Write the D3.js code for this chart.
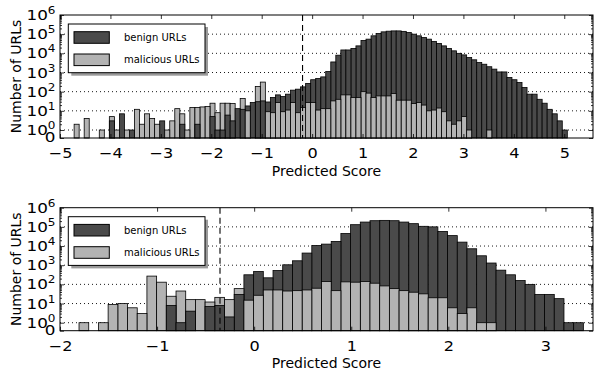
<!DOCTYPE html>
<html>
<head>
<meta charset="utf-8">
<script src="https://cdn.jsdelivr.net/npm/d3@7"></script>
<style>
  body { margin: 0; background: #fff; }
  svg text { font-family: "DejaVu Sans", sans-serif; fill: #000; }
</style>
</head>
<body>
<div id="chart"></div>
<script>
// counts per bin, bins of ~0.1 score
var topStart = -4.72, topWidth = 0.0998;
var topBenign = [
  0,0,0,0,0,0,0,3,0,7,
  0,1,0,0,0,0,0,3,0,0,
  0,2,0,0,2,0,0,5,1,1,
  6,3,13,12,18,27,30,33,29,50,
  68,56,74,120,135,178,270,420,490,590,
  1120,3550,8000,15000,15000,18000,24500,47000,55000,82000,
  108000,132000,143000,148000,148000,140000,122000,100000,82000,67000,
  55000,42000,33000,24500,18000,13500,10000,8300,6000,4600,
  3300,2700,2000,1500,1070,1070,550,420,300,165,
  74,74,40,25,12,7,3,1
];
var topMalicious = [
  2,0,4,0,0,1,0,5,1,0,
  1,0,12,2,7,4,2,0,1,3,
  13,7,1,15,15,16,17,25,8,25,
  25,24,0,44,10,0,186,316,9,8,
  27,9,11,27,8,15,27,27,11,13,
  13,33,40,68,68,50,50,100,84,50,
  60,60,60,80,36,36,36,24,27,20,
  10,11,14,9,3,2,3,5,1,0,
  0,0,1,0,0,0,0,0,0,0,
  0,0,0,0,0,0,0,0
];
var topThreshold = -0.19;
var topDomain = [-5, 5.57];
var topTicks = [-5,-4,-3,-2,-1,0,1,2,3,4,5];

var botStart = -1.804, botWidth = 0.0999;
var botBenign = [
  0,0,0,0,0,0,0,0,0,8,
  1,4,0,7,8,2,30,316,470,220,
  530,1050,1700,4300,10700,12600,17400,45000,130000,178000,
  210000,218000,210000,178000,147000,107000,100000,58000,35000,16000,
  7200,3100,1300,550,316,158,100,30,30,18,
  1,1
];
var botMalicious = [
  1,0,1,9,10,6,3,270,130,24,
  45,16,16,12,21,16,60,15,27,51,
  51,45,47,51,63,140,47,135,130,140,
  115,83,60,47,39,32,20,20,6,3,
  6,1,1,0,0,0,0,0,0,0,
  0,0
];
var botThreshold = -0.352;
var botDomain = [-2, 3.49];
var botTicks = [-2,-1,0,1,2,3];

var seriesNames = ["benign URLs", "malicious URLs"];
var colors = ["#4a4a4a", "#b3b3b3"];
var decades = [0,1,2,3,4,5,6];

var width = 595, height = 370;
var svg = d3.select("#chart").append("svg")
    .attr("width", width)
    .attr("height", height);

drawPanel({top: 15, domain: topDomain, ticks: topTicks, start: topStart, binW: topWidth,
  benign: topBenign, malicious: topMalicious, threshold: topThreshold});
drawPanel({top: 207.7, domain: botDomain, ticks: botTicks, start: botStart, binW: botWidth,
  benign: botBenign, malicious: botMalicious, threshold: botThreshold});

function drawPanel(c) {
  var left = 60, right = 593, plotH = 123,
      bottom = c.top + plotH;
  var linPart = 0.417;   // part of the axis taken by the linear 0..1 range, in decades

  var x = d3.scaleLinear().domain(c.domain).range([left, right]);
  function tr(v) { return v <= 1 ? v * linPart : linPart + Math.log10(v); }
  var yT = d3.scaleLinear().domain([0, linPart + 6]).range([bottom, c.top]);
  function y(v) { return yT(tr(v)); }

  var g = svg.append("g");

  // dotted grid
  g.selectAll("line.grid")
    .data(decades.slice(0, 6))
    .enter().append("line")
      .attr("class", "grid")
      .attr("x1", left).attr("x2", right)
      .attr("y1", function(d) { return y(Math.pow(10, d)); })
      .attr("y2", function(d) { return y(Math.pow(10, d)); })
      .attr("stroke", "#000").attr("stroke-width", 0.9)
      .attr("stroke-dasharray", "1,3");

  // bars, the shorter one of each bin drawn in front
  var bars = [];
  c.benign.forEach(function(v, i) { if (v > 0) bars.push({i: i, v: v, s: 0}); });
  c.malicious.forEach(function(v, i) { if (v > 0) bars.push({i: i, v: v, s: 1}); });
  bars.sort(function(a, b) { return b.v - a.v; });

  g.selectAll("rect.bar")
    .data(bars)
    .enter().append("rect")
      .attr("class", "bar")
      .attr("x", function(d) { return x(c.start + d.i * c.binW); })
      .attr("width", function(d) { return x(c.start + (d.i + 1) * c.binW) - x(c.start + d.i * c.binW); })
      .attr("y", function(d) { return y(d.v); })
      .attr("height", function(d) { return y(0) - y(d.v); })
      .attr("fill", function(d) { return colors[d.s]; })
      .attr("stroke", "#000")
      .attr("stroke-width", 0.8);

  // threshold
  g.append("line")
    .attr("x1", x(c.threshold)).attr("x2", x(c.threshold))
    .attr("y1", c.top).attr("y2", bottom)
    .attr("stroke", "#000").attr("stroke-width", 1.1)
    .attr("stroke-dasharray", "6,4");

  // ticks
  var xb = g.append("g")
      .attr("transform", "translate(0," + bottom + ")")
      .call(d3.axisBottom(x).tickValues(c.ticks).tickFormat(d3.format("d"))
        .tickSizeInner(-4).tickSizeOuter(0).tickPadding(10.5));
  g.append("g")
      .attr("transform", "translate(0," + c.top + ")")
      .call(d3.axisTop(x).tickValues(c.ticks).tickSizeInner(-4).tickSizeOuter(0).tickFormat(""));
  xb.selectAll("text")
    .style("font-size", "14px")
    .style("font-family", "DejaVu Sans")
    .attr("transform", "scale(1.15,1)");

  var major = decades.map(function(d) { return tr(Math.pow(10, d)); }).concat([0]);
  var minor = [];
  decades.slice(0, 6).forEach(function(d) {
    for (var k = 2; k < 10; k++) minor.push(tr(k * Math.pow(10, d)));
  });
  [[d3.axisLeft, left], [d3.axisRight, right]].forEach(function(a) {
    g.append("g").attr("transform", "translate(" + a[1] + ",0)")
      .call(a[0](yT).tickValues(major).tickSizeInner(-4).tickSizeOuter(0).tickFormat(""));
    g.append("g").attr("transform", "translate(" + a[1] + ",0)")
      .call(a[0](yT).tickValues(minor).tickSizeInner(-2).tickSizeOuter(0).tickFormat(""));
  });
  g.selectAll(".domain").remove();
  g.selectAll(".tick line").attr("stroke", "#000").attr("stroke-width", 0.8);

  // y tick labels 10^k and 0
  var yl = g.selectAll("text.ylab")
    .data(decades)
    .enter().append("text")
      .attr("class", "ylab")
      .attr("transform", function(d) {
        return "translate(" + (left - 4.5) + "," + (y(Math.pow(10, d)) + 5) + ") scale(1.2,1)";
      })
      .attr("text-anchor", "end")
      .style("font-size", "14px");
  yl.append("tspan").text("10");
  yl.append("tspan").attr("dy", "-6").style("font-size", "10px").text(function(d) { return d; });
  g.append("text")
    .attr("transform", "translate(" + (left - 4.5) + "," + (y(0) + 4) + ") scale(1.2,1)")
    .attr("text-anchor", "end")
    .style("font-size", "14px")
    .text("0");

  // frame
  g.append("rect")
    .attr("x", left).attr("y", c.top)
    .attr("width", right - left).attr("height", plotH)
    .attr("fill", "none").attr("stroke", "#000").attr("stroke-width", 1);

  // axis labels
  g.append("text")
    .attr("x", (left + right) / 2).attr("y", bottom + 37.5)
    .attr("text-anchor", "middle")
    .style("font-size", "14px")
    .text("Predicted Score");
  g.append("text")
    .attr("transform", "translate(20.5," + (c.top + plotH / 2) + ") rotate(-90)")
    .attr("text-anchor", "middle")
    .style("font-size", "14px")
    .text("Number of URLs");

  // legend
  var lg = g.append("g").attr("transform", "translate(68.3," + (c.top + 9) + ")");
  lg.append("rect").attr("x", 3).attr("y", 3).attr("width", 136.7).attr("height", 48.7).attr("fill", "#9a9a9a");
  lg.append("rect").attr("width", 136.7).attr("height", 48.7)
    .attr("fill", "#fff").attr("stroke", "#000").attr("stroke-width", 1);
  var item = lg.selectAll("g.item")
    .data(seriesNames)
    .enter().append("g")
      .attr("class", "item")
      .attr("transform", function(d, i) { return "translate(0," + (7.7 + i * 22.3) + ")"; });
  item.append("rect")
    .attr("x", 5.7).attr("width", 35.3).attr("height", 11.6)
    .attr("fill", function(d, i) { return colors[i]; })
    .attr("stroke", "#000").attr("stroke-width", 1);
  item.append("text")
    .attr("x", 55.7).attr("y", 5.8)
    .attr("dy", "0.35em")
    .style("font-size", "10px")
    .text(function(d) { return d; });
}
</script>
</body>
</html>
